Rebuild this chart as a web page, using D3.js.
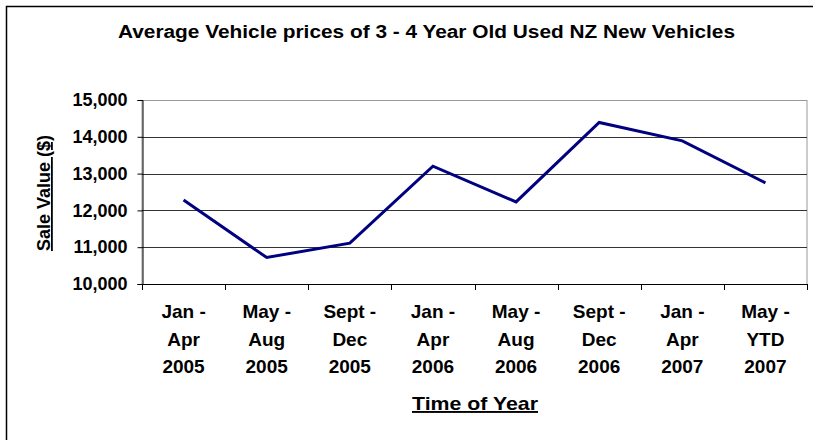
<!DOCTYPE html>
<html>
<head>
<meta charset="utf-8">
<script src="https://cdn.jsdelivr.net/npm/d3@7"></script>
<style>
    body { margin: 0; background: #fff; }
    svg { display: block; font-family: "Liberation Sans", Arial, sans-serif; font-weight: bold; }
</style>
</head>
<body>
<div class="container"></div>
<script>
var SVG_WIDTH = 813;
var SVG_HEIGHT = 440;

var TITLE = 'Average Vehicle prices of 3 - 4 Year Old Used NZ New Vehicles';
var Y_TITLE = 'Sale Value ($)';
var X_TITLE = 'Time of Year';

var periods = ['Jan - Apr 2005', 'May - Aug 2005', 'Sept - Dec 2005', 'Jan - Apr 2006',
    'May - Aug 2006', 'Sept - Dec 2006', 'Jan - Apr 2007', 'May - YTD 2007'];
var periodLines = [
    ['Jan -', 'Apr', '2005'],
    ['May -', 'Aug', '2005'],
    ['Sept -', 'Dec', '2005'],
    ['Jan -', 'Apr', '2006'],
    ['May -', 'Aug', '2006'],
    ['Sept -', 'Dec', '2006'],
    ['Jan -', 'Apr', '2007'],
    ['May -', 'YTD', '2007']
];
var salePrices = [12280, 10720, 11110, 13200, 12230, 14390, 13890, 12750];
var yTicks = [10000, 11000, 12000, 13000, 14000, 15000];

var plot = { left: 142, right: 807, top: 100, bottom: 284 };

var svg = d3.select('.container')
    .append('svg')
    .attr('width', SVG_WIDTH)
    .attr('height', SVG_HEIGHT);

// outer chart frame (runs off the right and bottom of the picture)
svg.append('rect')
    .attr('x', 6.5)
    .attr('y', 6.5)
    .attr('width', SVG_WIDTH + 20)
    .attr('height', SVG_HEIGHT + 20)
    .attr('fill', 'none')
    .attr('stroke', '#000')
    .attr('stroke-width', 1.5);

svg.append('text')
    .attr('x', 426.5)
    .attr('y', 38)
    .attr('text-anchor', 'middle')
    .attr('textLength', 617)
    .attr('lengthAdjust', 'spacingAndGlyphs')
    .style('font-size', '17.5px')
    .text(TITLE);

var x = d3.scaleBand()
    .domain(periods)
    .range([plot.left, plot.right])
    .padding(0);

var y = d3.scaleLinear()
    .domain([10000, 15000])
    .range([plot.bottom, plot.top]);

// plot area border
svg.append('rect')
    .attr('x', plot.left)
    .attr('y', plot.top + 0.5)
    .attr('width', plot.right - plot.left)
    .attr('height', plot.bottom - plot.top)
    .attr('fill', 'none')
    .attr('stroke', '#999')
    .attr('stroke-width', 1);

// gridlines
svg.append('g')
    .selectAll('line')
    .data(yTicks.slice(1, -1))
    .enter()
    .append('line')
    .attr('x1', plot.left)
    .attr('x2', plot.right)
    .attr('y1', function (d) { return Math.round(y(d)) + 0.5; })
    .attr('y2', function (d) { return Math.round(y(d)) + 0.5; })
    .attr('stroke', '#333')
    .attr('stroke-width', 1);

// y axis
var yAxis = svg.append('g')
    .attr('transform', 'translate(' + (plot.left + 0.5) + ',0)')
    .call(d3.axisLeft(y)
        .tickValues(yTicks)
        .tickSize(5)
        .tickPadding(10)
        .tickFormat(d3.format(',')));
yAxis.select('.domain').attr('stroke', '#000');
yAxis.selectAll('.tick line').attr('stroke', '#000');
yAxis.selectAll('text')
    .attr('fill', '#000')
    .style('font-size', '18px')
    .style('font-family', '"Liberation Sans", Arial, sans-serif')
    .style('font-weight', 'bold');

// x axis line and ticks between categories
svg.append('line')
    .attr('x1', plot.left)
    .attr('x2', plot.right)
    .attr('y1', plot.bottom + 0.5)
    .attr('y2', plot.bottom + 0.5)
    .attr('stroke', '#000');

var boundaries = periods.map(function (d) { return x(d); }).concat([x(periods[periods.length - 1]) + x.bandwidth()]);
svg.append('g')
    .selectAll('line')
    .data(boundaries)
    .enter()
    .append('line')
    .attr('x1', function (d) { return Math.round(d) + 0.5; })
    .attr('x2', function (d) { return Math.round(d) + 0.5; })
    .attr('y1', plot.bottom)
    .attr('y2', plot.bottom + 6)
    .attr('stroke', '#000');

var xLabel = svg.append('g')
    .selectAll('text')
    .data(periods)
    .enter()
    .append('text')
    .attr('text-anchor', 'middle')
    .style('font-size', '19px');

xLabel.selectAll('tspan')
    .data(function (d, i) {
        return periodLines[i].map(function (t) { return { cx: x(d) + x.bandwidth() / 2, t: t }; });
    })
    .enter()
    .append('tspan')
    .attr('x', function (d) { return d.cx; })
    .attr('y', function (d, i) { return 318 + i * 27.5; })
    .text(function (d) { return d.t; });

// axis titles
svg.append('text')
    .attr('x', 475)
    .attr('y', 410)
    .attr('text-anchor', 'middle')
    .attr('text-decoration', 'underline')
    .attr('textLength', 126)
    .attr('lengthAdjust', 'spacingAndGlyphs')
    .style('font-size', '19px')
    .text(X_TITLE);

svg.append('text')
    .attr('transform', 'translate(50,193) rotate(-90)')
    .attr('text-anchor', 'middle')
    .attr('text-decoration', 'underline')
    .style('font-size', '18px')
    .text(Y_TITLE);

// the series line
var line = d3.line()
    .x(function (d, i) { return x(periods[i]) + x.bandwidth() / 2; })
    .y(function (d) { return y(d); });

svg.append('path')
    .datum(salePrices)
    .attr('d', line)
    .attr('fill', 'none')
    .attr('stroke', '#000080')
    .attr('stroke-width', 3);
</script>
</body>
</html>
